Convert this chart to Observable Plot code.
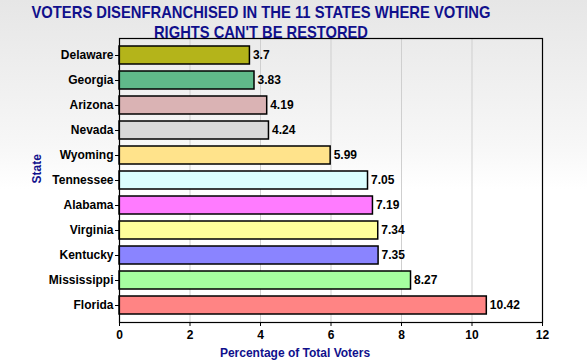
<!DOCTYPE html>
<html>
<head>
<meta charset="utf-8">
<script src="https://cdn.jsdelivr.net/npm/d3@7"></script>
<script src="https://cdn.jsdelivr.net/npm/@observablehq/plot@0.6"></script>
<style>
  html, body { margin: 0; padding: 0; background: #fff; }
  #chart svg { display: block; }
</style>
</head>
<body>
<div id="chart"></div>
<script>
const states = ["Delaware", "Georgia", "Arizona", "Nevada", "Wyoming", "Tennessee", "Alabama", "Virginia", "Kentucky", "Mississippi", "Florida"];
const values = [3.7, 3.83, 4.19, 4.24, 5.99, 7.05, 7.19, 7.34, 7.35, 8.27, 10.42];
const colors = ["#b4b41a", "#60b98a", "#dab3b4", "#d9d9d9", "#ffe38b", "#dbffff", "#ff7bff", "#ffff9b", "#8a84ff", "#a6ffa0", "#ff8484"];
const xTicks = [0, 2, 4, 6, 8, 10, 12];
const titleLines = ["VOTERS DISENFRANCHISED IN THE 11 STATES WHERE VOTING", "RIGHTS CAN'T BE RESTORED"];
const xLabel = "Percentage of Total Voters";
const yLabel = "State";

const data = states.map((s, i) => ({state: s, value: values[i], color: colors[i]}));
const navy = "#10108c";

const chart = Plot.plot({
  width: 587,
  height: 363,
  marginLeft: 119,
  marginRight: 45,
  marginTop: 38,
  marginBottom: 41,
  style: {
    background: "linear-gradient(to bottom, #e6e6e6 0%, #f7f7f7 40%, #ffffff 52%, #ffffff 100%)",
    fontFamily: "'Liberation Sans', Arial, sans-serif",
    fontSize: "12px",
    fontWeight: "bold",
    color: "black"
  },
  x: {domain: [0, 12], ticks: xTicks},
  y: {domain: states, paddingInner: 0.3, paddingOuter: 0.16},
  color: {type: "identity"},
  marks: [
    Plot.gridX(xTicks.slice(1, -1), {stroke: "#cfcfcf", strokeOpacity: 1}),
    Plot.barX(data, {x: "value", y: "state", fill: "color", stroke: "black", strokeWidth: 1.5}),
    Plot.text(data, {x: "value", y: "state", text: d => String(d.value), dx: 3, textAnchor: "start", fill: "black", fontWeight: "bold", fontSize: 12}),
    Plot.frame({stroke: "black", strokeWidth: 1.2}),
    Plot.axisX({ticks: xTicks, tickSize: 4, tickPadding: 4, label: null, fill: "black", stroke: "black", fontWeight: "bold"}),
    Plot.axisY({tickSize: 4, tickPadding: 2, label: null, fill: "black", stroke: "black", fontWeight: "bold"}),
    Plot.text([xLabel], {text: d => d, frameAnchor: "bottom", dx: -36, dy: 34, lineAnchor: "bottom", fill: navy, fontWeight: "bold", fontSize: 12}),
    Plot.text([yLabel], {text: d => d, frameAnchor: "left", dx: -82, dy: 3, rotate: -90, lineAnchor: "middle", fill: navy, fontWeight: "bold", fontSize: 12}),
    Plot.text([titleLines[0]], {text: d => d, frameAnchor: "top", dx: -70, dy: -21, lineAnchor: "bottom", fill: navy, fontWeight: "bold", fontSize: 17, className: "title1"}),
    Plot.text([titleLines[1]], {text: d => d, frameAnchor: "top", dx: -70, dy: -1, lineAnchor: "bottom", fill: navy, fontWeight: "bold", fontSize: 17, className: "title2"})
  ]
});

document.getElementById("chart").appendChild(chart);
// squeeze title lines to the reference's narrow width
d3.select(chart).selectAll(".title1 text").attr("textLength", 459).attr("lengthAdjust", "spacingAndGlyphs");
d3.select(chart).selectAll(".title2 text").attr("textLength", 214).attr("lengthAdjust", "spacingAndGlyphs");
</script>
</body>
</html>
